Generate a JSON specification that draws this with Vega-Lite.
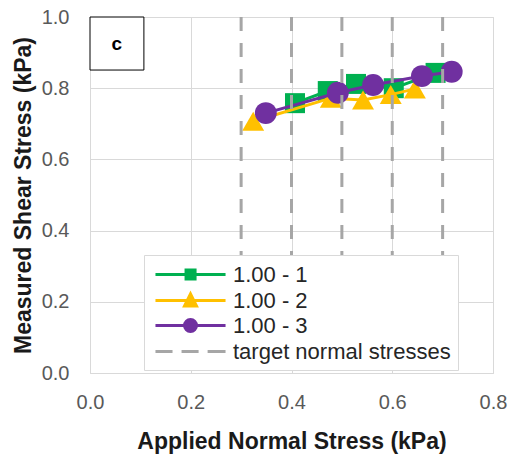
{
  "$schema": "https://vega.github.io/schema/vega-lite/v6.json",
  "width": 403,
  "height": 356,
  "autosize": "none",
  "padding": {"left": 90, "top": 17, "right": 20, "bottom": 83},
  "background": "white",
  "config": {
    "font": "Liberation Sans",
    "view": {"stroke": "#d9d9d9", "strokeWidth": 1},
    "axis": {
      "grid": true,
      "gridColor": "#d9d9d9",
      "gridWidth": 1,
      "domain": false,
      "ticks": false,
      "tickSize": 0,
      "labelFlush": false,
      "labelFontSize": 20,
      "labelColor": "#595959",
      "titleFontSize": 23,
      "titleFontWeight": "bold",
      "titleColor": "#1a1a1a"
    }
  },
  "datasets": {
    "series": [
      {"s": "1.00 - 1", "normal": 0.407, "shear": 0.758},
      {"s": "1.00 - 1", "normal": 0.472, "shear": 0.792},
      {"s": "1.00 - 1", "normal": 0.528, "shear": 0.812},
      {"s": "1.00 - 1", "normal": 0.603, "shear": 0.8},
      {"s": "1.00 - 1", "normal": 0.686, "shear": 0.843},
      {"s": "1.00 - 2", "normal": 0.324, "shear": 0.707},
      {"s": "1.00 - 2", "normal": 0.478, "shear": 0.772},
      {"s": "1.00 - 2", "normal": 0.542, "shear": 0.767},
      {"s": "1.00 - 2", "normal": 0.597, "shear": 0.782},
      {"s": "1.00 - 2", "normal": 0.645, "shear": 0.798},
      {"s": "1.00 - 3", "normal": 0.349, "shear": 0.73},
      {"s": "1.00 - 3", "normal": 0.492, "shear": 0.787},
      {"s": "1.00 - 3", "normal": 0.562, "shear": 0.809},
      {"s": "1.00 - 3", "normal": 0.659, "shear": 0.834},
      {"s": "1.00 - 3", "normal": 0.718, "shear": 0.846}
    ],
    "targets": [
      {"target": 0.3}, {"target": 0.4}, {"target": 0.5}, {"target": 0.6}, {"target": 0.7}
    ]
  },
  "layer": [
    {
      "data": {"name": "series"},
      "transform": [{"filter": "datum.s === '1.00 - 1'"}],
      "mark": {"type": "line", "strokeWidth": 3},
      "encoding": {
        "x": {
          "field": "normal", "type": "quantitative",
          "scale": {"domain": [0, 0.8], "nice": false, "zero": false},
          "axis": {
            "title": "Applied Normal Stress (kPa)",
            "values": [0, 0.2, 0.4, 0.6, 0.8],
            "format": ".1f",
            "labelPadding": 19,
            "titleY": 75,
            "titleBaseline": "alphabetic"
          }
        },
        "y": {
          "field": "shear", "type": "quantitative",
          "scale": {"domain": [0, 1], "nice": false, "zero": false},
          "axis": {
            "title": "Measured Shear Stress (kPa)",
            "values": [0, 0.2, 0.4, 0.6, 0.8, 1.0],
            "format": ".1f",
            "labelPadding": 21,
            "titleX": -60,
            "titleBaseline": "alphabetic"
          }
        },
        "color": {
          "field": "s", "type": "nominal",
          "scale": {
            "domain": ["1.00 - 1", "1.00 - 2", "1.00 - 3", "target normal stresses"],
            "range": ["#00b050", "#ffc000", "#7030a0", "#a6a6a6"]
          },
          "legend": {
            "title": null,
            "orient": "none",
            "legendX": 54,
            "legendY": 238,
            "symbolType": "stroke",
            "symbolSize": 484,
            "symbolStrokeWidth": 3,
            "labelFontSize": 22,
            "labelColor": "#262626",
            "labelOffset": 57,
            "labelLimit": 400,
            "padding": 7,
            "rowPadding": 1,
            "strokeColor": "#d9d9d9",
            "fillColor": "white",
            "encode": {
              "symbols": {
                "update": {
                  "shape": {"signal": "datum.value === '1.00 - 1' ? 'M-0.73,0H5.64M2.05,-0.41H2.87V0.41H2.05Z' : datum.value === '1.00 - 2' ? 'M-0.73,0H5.64M2.455,-0.6L3.0,0.5H1.91Z' : datum.value === '1.00 - 3' ? 'M-0.73,0H5.64M3.0,0A0.545,0.545 0 1,1 1.91,0A0.545,0.545 0 1,1 3.0,0Z' : 'M-0.73,0H0.82M1.64,0H3.19M4.01,0H5.64'"},
                  "fill": {"scale": "color", "field": "value"},
                  "stroke": {"scale": "color", "field": "value"},
                  "strokeWidth": {"value": 3},
                  "opacity": {"value": 1}
                }
              }
            }
          }
        }
      }
    },
    {
      "data": {"name": "series"},
      "transform": [{"filter": "datum.s === '1.00 - 1'"}],
      "mark": {"type": "point", "shape": "square", "filled": true, "size": 400, "opacity": 1},
      "encoding": {
        "x": {"field": "normal", "type": "quantitative"},
        "y": {"field": "shear", "type": "quantitative"},
        "color": {"field": "s", "type": "nominal"}
      }
    },
    {
      "data": {"name": "series"},
      "transform": [{"filter": "datum.s === '1.00 - 2'"}],
      "mark": {"type": "line", "strokeWidth": 3},
      "encoding": {
        "x": {"field": "normal", "type": "quantitative"},
        "y": {"field": "shear", "type": "quantitative"},
        "color": {"field": "s", "type": "nominal"}
      }
    },
    {
      "data": {"name": "series"},
      "transform": [{"filter": "datum.s === '1.00 - 2'"}],
      "mark": {"type": "point", "shape": "triangle-up", "filled": true, "size": 480, "opacity": 1},
      "encoding": {
        "x": {"field": "normal", "type": "quantitative"},
        "y": {"field": "shear", "type": "quantitative"},
        "color": {"field": "s", "type": "nominal"}
      }
    },
    {
      "data": {"name": "series"},
      "transform": [{"filter": "datum.s === '1.00 - 3'"}],
      "mark": {"type": "line", "strokeWidth": 3},
      "encoding": {
        "x": {"field": "normal", "type": "quantitative"},
        "y": {"field": "shear", "type": "quantitative"},
        "color": {"field": "s", "type": "nominal"}
      }
    },
    {
      "data": {"name": "series"},
      "transform": [{"filter": "datum.s === '1.00 - 3'"}],
      "mark": {"type": "point", "shape": "circle", "filled": true, "size": 480, "opacity": 1},
      "encoding": {
        "x": {"field": "normal", "type": "quantitative"},
        "y": {"field": "shear", "type": "quantitative"},
        "color": {"field": "s", "type": "nominal"}
      }
    },
    {
      "data": {"name": "targets"},
      "mark": {"type": "rule", "color": "#a6a6a6", "strokeWidth": 3, "strokeDash": [14, 12]},
      "encoding": {
        "x": {"field": "target", "type": "quantitative"}
      }
    },
    {
      "data": {"values": [{}]},
      "mark": {"type": "rect", "fill": "white", "stroke": "black", "strokeWidth": 1},
      "encoding": {
        "x": {"datum": 0},
        "x2": {"datum": 0.107},
        "y": {"datum": 0.851},
        "y2": {"datum": 1.0}
      }
    },
    {
      "data": {"values": [{}]},
      "mark": {"type": "text", "text": "c", "fontSize": 19, "fontWeight": "bold", "color": "#000000", "align": "center", "baseline": "middle"},
      "encoding": {
        "x": {"datum": 0.053},
        "y": {"datum": 0.924}
      }
    }
  ]
}
